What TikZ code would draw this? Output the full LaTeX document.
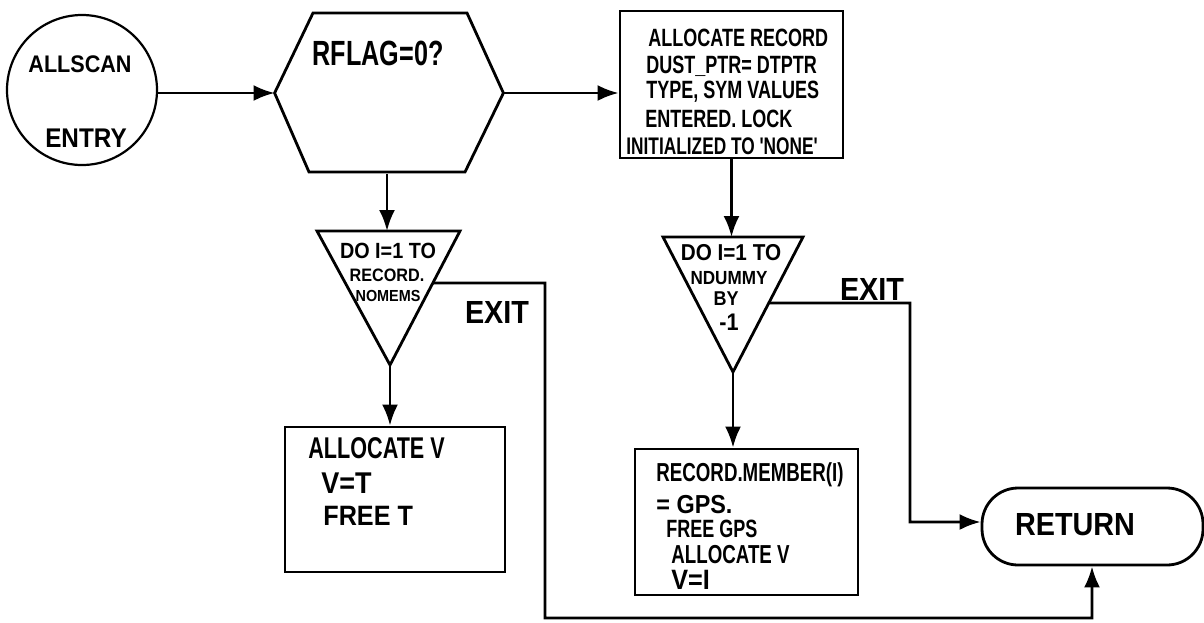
\documentclass[tikz,border=0pt]{standalone}
\usepackage{fontspec}
\usetikzlibrary{arrows.meta,calc}
\newfontfamily\hand[FakeStretch=0.72,BoldFont={Liberation Sans Bold}]{Liberation Sans}
\newfontfamily\handw[FakeStretch=0.9,BoldFont={Liberation Sans Bold}]{Liberation Sans}
\newcommand{\fs}[1]{\hand\bfseries\fontsize{#1}{#1}\selectfont}
\newcommand{\fw}[1]{\handw\bfseries\fontsize{#1}{#1}\selectfont}
\begin{document}
\begin{tikzpicture}[x=1pt,y=-1pt,
  every path/.style={line width=2.8pt},
  arr/.style={-{Latex[length=21pt,width=16pt]}},
  ln/.style={inner sep=0pt,anchor=west},
  ct/.style={inner sep=0pt,anchor=center},
  boxshape/.style={draw,line width=2.8pt,inner sep=0pt}
]
\useasboundingbox (0,0) rectangle (1204,622);

% entry circle
\node[draw,circle,minimum size=150pt,inner sep=0pt,line width=2.2pt] (entry) at (82,90) {};
\node[ct,font=\fw{24}] (entryt1) at (80,64) {ALLSCAN};
\node[ct,font=\fw{27}] (entryt2) at (86,138) {ENTRY};

% decision hexagon
\node[minimum width=226pt,minimum height=159pt,inner sep=0pt] (dec) at (389,93) {};
\draw (dec.west) -- (313,13) -- (467,13) -- (dec.east) -- (465,172) -- (309,172) -- cycle;
\node[ct,font=\fs{35}] (dect) at (378,53) {RFLAG=0?};

% box 1
\node[boxshape,minimum width=223pt,minimum height=147pt] (box1) at (731.5,84.5) {};
\node[ln,font=\fs{25}] (b1l1) at (647,38) {ALLOCATE RECORD};
\node[ln,font=\fs{25}] (b1l2) at (645,66) {DUST\_PTR= DTPTR};
\node[ln,font=\fs{25}] (b1l3) at (645,92) {TYPE, SYM VALUES};
\node[ln,font=\fs{25}] (b1l4) at (644,119) {ENTERED. LOCK};
\node[ln,font=\fs{24}] (b1l5) at (625,146) {INITIALIZED TO 'NONE'};

% triangle 1
\coordinate (t1a) at (317,231);
\coordinate (t1b) at (460,231);
\coordinate (t1c) at (390,365);
\coordinate (t1top) at (387,231);
\coordinate (t1x) at ($(t1b)!0.388!(t1c)$);
\draw (t1a) -- (t1b) -- (t1c) -- cycle;
\node[ct,font=\fw{22}] (t1l1) at (388,251) {DO I=1 TO};
\node[ct,font=\fw{18}] (t1l2) at (387,275) {RECORD.};
\node[ct,font=\fw{16}] (t1l3) at (388,296) {NOMEMS};

% triangle 2
\coordinate (t2a) at (663,237);
\coordinate (t2b) at (803,237);
\coordinate (t2c) at (733,372);
\coordinate (t2top) at (731.5,237);
\coordinate (t2x) at ($(t2b)!0.489!(t2c)$);
\draw (t2a) -- (t2b) -- (t2c) -- cycle;
\node[ct,font=\fw{23}] (t2l1) at (731,253) {DO I=1 TO};
\node[ct,font=\fw{19}] (t2l2) at (729,278) {NDUMMY};
\node[ct,font=\fw{20}] (t2l3) at (726,299) {BY};
\node[ct,font=\fw{24}] (t2l4) at (729,322) {-1};

% box V
\node[boxshape,minimum width=220pt,minimum height=145pt] (boxv) at (395,499.5) {};
\node[ln,font=\fs{30}] (bvl1) at (307,448) {ALLOCATE V};
\node[ln,font=\fw{30}] (bvl2) at (320,483) {V=T};
\node[ln,font=\fw{28}] (bvl3) at (322,516) {FREE T};

% box member
\node[boxshape,minimum width=223pt,minimum height=146pt] (boxm) at (746.5,522) {};
\node[ln,font=\fs{26}] (bml1) at (655,475) {RECORD.MEMBER(I)};
\node[ln,font=\fw{26}] (bml2) at (655,505) {= GPS.};
\node[ln,font=\fs{25}] (bml3) at (665,529) {FREE GPS};
\node[ln,font=\fs{26}] (bml4) at (670,555) {ALLOCATE V};
\node[ln,font=\fw{28}] (bml5) at (670,580) {V=I};

% return
\node[draw,rounded corners=36pt,minimum width=221pt,minimum height=77pt,inner sep=0pt] (ret) at (1092.5,526.5) {};
\node[ct,font=\fw{32}] (rett) at (1075,525) {RETURN};

% exit labels
\node[ct,font=\fw{32}] (exit1) at (497,312) {EXIT};
\node[ct,font=\fw{32}] (exit2) at (872,289) {EXIT};

% connectors
\draw[arr] (entry.east |- dec.west) -- (dec.west);
\draw[arr] (dec.east) -- (dec.east -| box1.west);
\draw[arr] (dec.south -| t1top) -- (t1top);
\draw[arr] (box1.south) -- (t2top);
\draw[arr] (t1c) -- (t1c |- boxv.north);
\draw[arr] (t2c) -- (t2c |- boxm.north);
\draw[arr] (t1x) -- (545,283) -- (545,618) -- (1092,618) -- (1092,0 |- ret.south);
\draw[arr] (t2x) -- (910,303) -- (910,522) -- (ret.west |- 0,522);
\end{tikzpicture}
\end{document}
